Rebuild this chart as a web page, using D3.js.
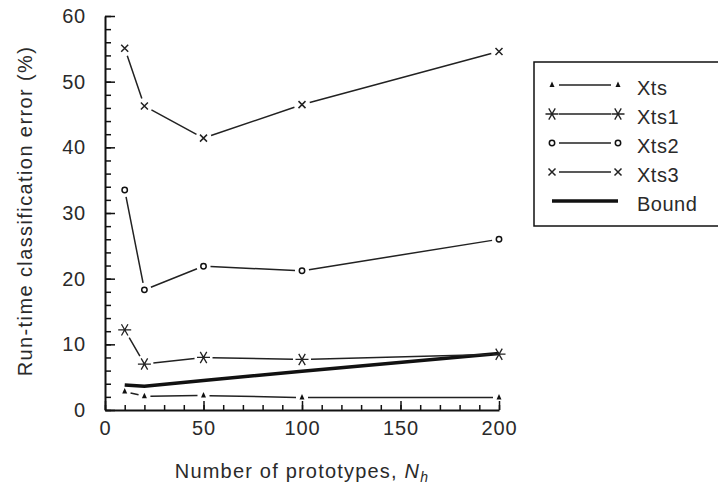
<!DOCTYPE html>
<html>
<head>
<meta charset="utf-8">
<script src="https://cdn.jsdelivr.net/npm/d3@7"></script>
<style>
  body { margin: 0; background: #fff; }
  text { font-family: "Liberation Sans", Arial, sans-serif; fill: #2a2a2a; }
</style>
</head>
<body>
<div id="chart"></div>
<script>
var svgWidth = 718;
var svgHeight = 488;

// data
var prototypes = [10, 20, 50, 100, 200];
var xts  = [2.8, 2.1, 2.2, 1.9, 1.9];
var xts1 = [12.2, 7.0, 8.0, 7.7, 8.5];
var xts2 = [33.5, 18.3, 21.9, 21.2, 26.0];
var xts3 = [55.1, 46.3, 41.4, 46.5, 54.6];
var boundX = [10, 20, 50, 100, 200];
var bound  = [3.8, 3.6, 4.5, 5.9, 8.6];
var xTicks = [0, 50, 100, 150, 200];
var yTicks = [0, 10, 20, 30, 40, 50, 60];
var seriesNames = ["Xts", "Xts1", "Xts2", "Xts3", "Bound"];

var svg = d3.select("#chart")
  .append("svg")
  .attr("width", svgWidth)
  .attr("height", svgHeight);

var x = d3.scaleLinear().domain([0, 200]).range([105, 499]);
var y = d3.scaleLinear().domain([0, 60]).range([410, 16]);

// minor ticks
svg.append("g")
  .attr("transform", "translate(0,410)")
  .call(d3.axisBottom(x).tickValues(d3.range(0, 201, 10)).tickSize(-5).tickFormat(""))
  .call(g => g.select(".domain").remove());
svg.append("g")
  .attr("transform", "translate(105,0)")
  .call(d3.axisLeft(y).tickValues(d3.range(0, 61, 2)).tickSize(-6).tickFormat(""))
  .call(g => g.select(".domain").remove());

// major ticks + axis lines
var xAxis = svg.append("g")
  .attr("transform", "translate(0,410)")
  .call(d3.axisBottom(x).tickValues(xTicks).tickSizeInner(-9).tickSizeOuter(0).tickPadding(11));
var yAxis = svg.append("g")
  .attr("transform", "translate(105,0)")
  .call(d3.axisLeft(y).tickValues(yTicks).tickSizeInner(-10).tickSizeOuter(0).tickPadding(19));

svg.selectAll(".domain").attr("stroke", "#111").attr("stroke-width", 2);
svg.selectAll(".tick line").attr("stroke", "#111").attr("stroke-width", 1.5);
svg.selectAll(".tick text")
  .attr("font-family", "Liberation Sans, Arial, sans-serif")
  .attr("font-size", 20)
  .attr("letter-spacing", 0.8)
  .attr("fill", "#2a2a2a");

// axis titles
var xTitle = svg.append("text")
  .attr("x", 302)
  .attr("y", 478)
  .attr("text-anchor", "middle")
  .attr("font-size", 20)
  .attr("letter-spacing", 1.2);
xTitle.append("tspan").text("Number of prototypes, ");
xTitle.append("tspan").attr("font-style", "italic").text("N");
xTitle.append("tspan").attr("font-style", "italic").attr("font-size", 14).attr("dy", 4).text("h");

svg.append("text")
  .attr("transform", "translate(32,211) rotate(-90)")
  .attr("text-anchor", "middle")
  .attr("font-size", 20)
  .attr("letter-spacing", 1.4)
  .text("Run-time classification error (%)");

// marker drawing
function marker(g, type, cx, cy) {
  var p = d3.path();
  if (type === "tri") {
    g.append("path")
      .attr("d", `M${cx},${cy - 3.5}L${cx + 2.5},${cy + 2}L${cx - 2.5},${cy + 2}Z`)
      .attr("fill", "#111");
  } else if (type === "star") {
    var r = 6.5;
    [0, 60, 120].forEach(function(a) {
      var t = a * Math.PI / 180;
      p.moveTo(cx - r * Math.cos(t), cy - r * Math.sin(t));
      p.lineTo(cx + r * Math.cos(t), cy + r * Math.sin(t));
    });
    g.append("path").attr("d", p.toString()).attr("stroke", "#222").attr("stroke-width", 1.3).attr("fill", "none");
  } else if (type === "circ") {
    g.append("circle").attr("cx", cx).attr("cy", cy).attr("r", 2.7)
      .attr("fill", "#fff").attr("stroke", "#111").attr("stroke-width", 1.5);
  } else if (type === "x") {
    var s = 3.5;
    p.moveTo(cx - s, cy - s); p.lineTo(cx + s, cy + s);
    p.moveTo(cx + s, cy - s); p.lineTo(cx - s, cy + s);
    g.append("path").attr("d", p.toString()).attr("stroke", "#222").attr("stroke-width", 1.5).attr("fill", "none");
  }
}

// line segments with gaps around the markers
function gappedLine(g, pts, gap) {
  var p = d3.path();
  for (var i = 0; i < pts.length - 1; i++) {
    var a = pts[i], b = pts[i + 1];
    var dx = b[0] - a[0], dy = b[1] - a[1];
    var len = Math.sqrt(dx * dx + dy * dy);
    if (len <= 2 * gap) continue;
    var ux = dx / len, uy = dy / len;
    p.moveTo(a[0] + ux * gap, a[1] + uy * gap);
    p.lineTo(b[0] - ux * gap, b[1] - uy * gap);
  }
  g.append("path").attr("d", p.toString())
    .attr("stroke", "#222").attr("stroke-width", 1.5).attr("fill", "none");
}

var series = [
  {vals: xts, type: "tri", gap: 6},
  {vals: xts1, type: "star", gap: 9},
  {vals: xts2, type: "circ", gap: 7},
  {vals: xts3, type: "x", gap: 8}
];

var plot = svg.append("g");

// bound line
plot.append("path")
  .datum(bound)
  .attr("d", d3.line().x((d, i) => x(boundX[i])).y(d => y(d)))
  .attr("stroke", "#111")
  .attr("stroke-width", 3.5)
  .attr("fill", "none");

series.forEach(function(s) {
  var pts = s.vals.map((v, i) => [x(prototypes[i]), y(v)]);
  gappedLine(plot, pts, s.gap);
  pts.forEach(p => marker(plot, s.type, p[0], p[1]));
});

// legend
var legend = svg.append("g");
legend.append("rect")
  .attr("x", 534).attr("y", 62)
  .attr("width", 200).attr("height", 164)
  .attr("fill", "#fff").attr("stroke", "#111").attr("stroke-width", 1.5);

var legendTypes = ["tri", "star", "circ", "x", "bound"];
seriesNames.forEach(function(name, i) {
  var ly = 85 + i * 29;
  if (legendTypes[i] === "bound") {
    legend.append("line")
      .attr("x1", 552).attr("x2", 618).attr("y1", ly).attr("y2", ly)
      .attr("stroke", "#111").attr("stroke-width", 3.5);
  } else {
    legend.append("line")
      .attr("x1", 559).attr("x2", 611).attr("y1", ly).attr("y2", ly)
      .attr("stroke", "#222").attr("stroke-width", 1.5);
    marker(legend, legendTypes[i], 552, ly);
    marker(legend, legendTypes[i], 618, ly);
  }
  legend.append("text")
    .attr("x", 637).attr("y", ly + 9.5)
    .attr("font-size", 20)
    .attr("letter-spacing", 0.5)
    .text(name);
});
</script>
</body>
</html>
